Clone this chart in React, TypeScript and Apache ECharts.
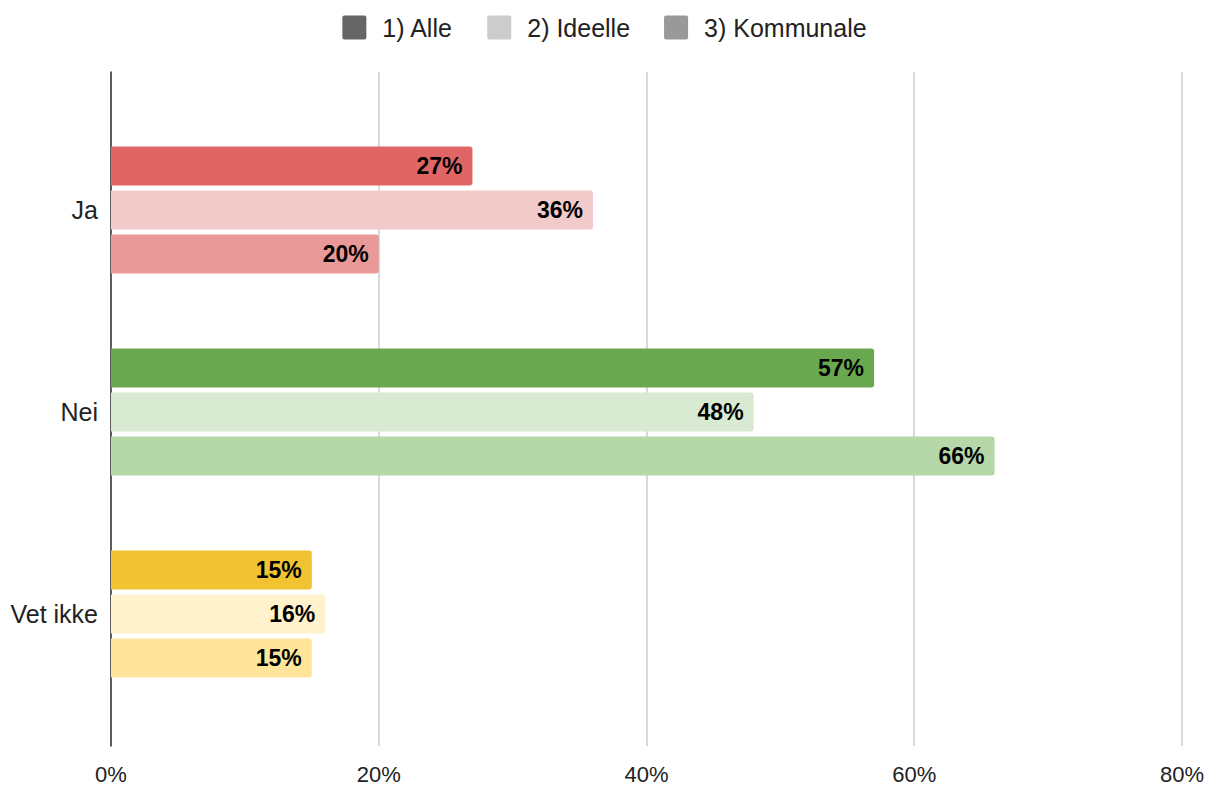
import React, { useEffect, useRef } from "react";
import * as echarts from "echarts";

const categories = ["Ja", "Nei", "Vet ikke"];
const seriesNames = ["1) Alle", "2) Ideelle", "3) Kommunale"];
const alle = [0.27, 0.57, 0.15];
const ideelle = [0.36, 0.48, 0.16];
const kommunale = [0.2, 0.66, 0.15];
const legendColors = ["#666666", "#cccccc", "#999999"];
const alleColors = ["#e06666", "#6aa84f", "#f1c232"];
const ideelleColors = ["#f2caca", "#d9ead3", "#fff2cc"];
const kommunaleColors = ["#ea9999", "#b6d7a8", "#ffe599"];
const xTicks = [0, 0.2, 0.4, 0.6, 0.8];

const FONT = "'Liberation Sans', Arial, sans-serif";
const SWATCH = "path://M2,0 H22 A2,2 0 0 1 24,2 V22 A2,2 0 0 1 22,24 H2 A2,2 0 0 1 0,22 V2 A2,2 0 0 1 2,0 Z";

export default function App() {
  const ref = useRef<HTMLDivElement>(null);
  useEffect(() => {
    if (!ref.current) return;
    const chart = echarts.init(ref.current, undefined, { renderer: "svg" });
    const values = [alle, ideelle, kommunale];
    const colors = [alleColors, ideelleColors, kommunaleColors];
    const pct = (v: number) => Math.round(v * 100) + "%";
    chart.setOption({
      animation: false,
      backgroundColor: "#ffffff",
      textStyle: { fontFamily: FONT },
      legend: {
        top: 10,
        left: "center",
        itemWidth: 24,
        itemHeight: 24,
        itemGap: 34,
        icon: SWATCH,
        textStyle: { fontSize: 25, color: "#222222", fontFamily: FONT, padding: [0, 0, 0, 11] },
        data: seriesNames,
      },
      grid: [
        { left: 111, right: 27, top: 109, bottom: 72 },
        { left: 111, right: 27, top: 72, bottom: 41 },
      ],
      xAxis: [
        {
          gridIndex: 0,
          type: "value",
          min: xTicks[0],
          max: xTicks[xTicks.length - 1],
          interval: 0.2,
          axisLabel: { show: false },
          axisLine: { show: false },
          axisTick: { show: false },
          splitLine: { show: false },
        },
        {
          gridIndex: 1,
          type: "value",
          min: xTicks[0],
          max: xTicks[xTicks.length - 1],
          interval: 0.2,
          axisLabel: {
            formatter: (v: number) => pct(v),
            fontSize: 22,
            color: "#222222",
            margin: 17,
            fontFamily: FONT,
          },
          axisLine: { show: false },
          axisTick: { show: false },
          splitLine: { show: true, lineStyle: { color: "#cccccc", width: 1.5 } },
        },
      ],
      yAxis: [
        {
          gridIndex: 0,
          type: "category",
          data: categories,
          inverse: true,
          axisLine: { show: false },
          axisTick: { show: false },
          axisLabel: { fontSize: 25, color: "#222222", margin: 13, fontFamily: FONT },
          splitLine: { show: false },
        },
        {
          gridIndex: 1,
          type: "value",
          min: 0,
          max: 1,
          axisLine: { show: true, onZero: false, lineStyle: { color: "#333333", width: 1.5 } },
          axisTick: { show: false },
          axisLabel: { show: false },
          splitLine: { show: false },
        },
      ],
      series: seriesNames.map((name, i) => ({
        name,
        type: "bar",
        xAxisIndex: 0,
        yAxisIndex: 0,
        barWidth: 39,
        barGap: "13%",
        z: 3,
        itemStyle: { color: legendColors[i], borderRadius: [0, 3, 3, 0] },
        label: {
          show: true,
          position: "insideRight",
          distance: 10,
          fontSize: 23,
          fontWeight: "bold",
          color: "#000000",
          fontFamily: FONT,
          formatter: (p: any) => pct(p.value),
        },
        data: values[i].map((v, j) => ({ value: v, itemStyle: { color: colors[i][j] } })),
      })),
    });
    return () => chart.dispose();
  }, []);
  return (
    <div
      ref={ref}
      style={{ position: "fixed", left: 0, top: 0, width: 1209, height: 787 }}
    />
  );
}
